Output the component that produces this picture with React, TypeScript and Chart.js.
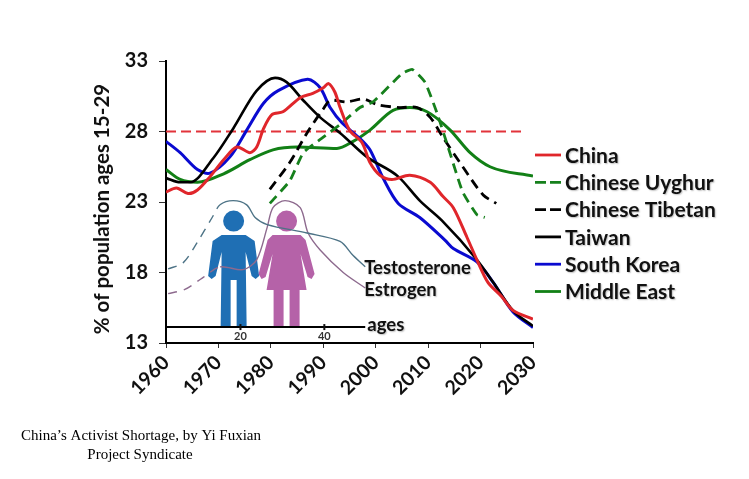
import React, { useEffect, useRef } from "react";
import { Chart, registerables } from "chart.js";

Chart.register(...registerables);

const chinaYears = [1960, 1962, 1964.2, 1966, 1968.4, 1971, 1973.5, 1976, 1977.3, 1978.6, 1980.2, 1982.3, 1985.6, 1988, 1990, 1991, 1992.2, 1993.2, 1995, 1997.4, 1998.9, 2000.8, 2003.1, 2006.5, 2010.4, 2012.8, 2014.8, 2017.4, 2019.3, 2021.4, 2024, 2026.2, 2030];
const chinaValues = [23.7, 24, 23.6, 23.85, 24.8, 26, 26.9, 26.5, 26.9, 28.2, 29.2, 29.4, 30.4, 30.7, 31.1, 31.4, 30.8, 29.7, 28.1, 27.2, 25.8, 24.9, 24.6, 24.9, 24.4, 23.4, 22.6, 20.5, 18.9, 17.3, 16.3, 15.3, 14.7];

const uyghurYears = [1979.8, 1983.6, 1986.2, 1990, 1993.2, 1997, 1999.5, 2005, 2007, 2009.4, 2011.7, 2013.8, 2016.6, 2019.3, 2020.8];
const uyghurValues = [22.9, 24.5, 26.5, 27.6, 28.5, 29.7, 30.1, 32.1, 32.4, 31.5, 29.3, 26.9, 23.7, 22.1, 21.9];

const tibetanYears = [1979.8, 1983.6, 1986.9, 1990, 1991.3, 1994.5, 1997.6, 2000.4, 2004.6, 2007.9, 2010.4, 2012.8, 2016.6, 2020.5, 2023];
const tibetanValues = [23.9, 25.8, 27.9, 29.6, 30.2, 30.1, 30.3, 29.9, 29.7, 29.7, 29, 27.6, 25.5, 23.5, 22.9];

const taiwanYears = [1960, 1962.7, 1964.6, 1969, 1972.8, 1977.3, 1980.8, 1983, 1986.2, 1989.4, 1993.2, 1998.3, 2004.3, 2008.4, 2012.6, 2019.3, 2022.4, 2026.2, 2030];
const taiwanValues = [24.7, 24.4, 24.4, 26.1, 28.2, 30.9, 31.8, 31.5, 30.2, 29, 27.9, 26.2, 24.8, 23.1, 21.7, 18.9, 17.3, 15.3, 14.2];

const koreaYears = [1960, 1962.7, 1966, 1968.4, 1972.2, 1975.4, 1978.6, 1981.4, 1987, 1989.4, 1991.3, 1993.6, 1997, 1998.9, 2001.4, 2004.3, 2008.4, 2013.2, 2014.8, 2019.3, 2022.4, 2026.2, 2030];
const koreaValues = [27.3, 26.5, 25.3, 25.05, 26.2, 28.1, 30, 30.9, 31.7, 31.1, 29.7, 28.6, 27.5, 26.7, 24.7, 22.9, 21.9, 20.3, 19.7, 18.75, 17.3, 15.2, 14.1];

const middleEastYears = [1960, 1962.7, 1966, 1971, 1976, 1980.4, 1985, 1992.6, 1995.7, 1998.9, 2003.3, 2006.5, 2009.8, 2014.2, 2018, 2021.8, 2030];
const middleEastValues = [25.3, 24.6, 24.4, 25, 26, 26.7, 26.9, 26.8, 27.3, 28.1, 29.5, 29.7, 29.4, 28.1, 26.5, 25.5, 24.85];

const testosteroneYears = [1960.4, 1963.3, 1965.9, 1968.8, 1970.3, 1972.8, 1975.4, 1977, 1979.3, 1986.9, 1993.2, 1995.7, 1998];
const testosteroneValues = [18.25, 18.7, 20.1, 21.9, 22.8, 23.1, 22.8, 21.9, 21.4, 20.8, 20.2, 19.2, 18.4];

const estrogenYears = [1960.4, 1963.6, 1966.9, 1970.3, 1974.7, 1977.3, 1979.3, 1980.4, 1982.7, 1985.6, 1987.1, 1989.4, 1993.8, 1998];
const estrogenValues = [16.5, 16.8, 17.6, 18.4, 18.2, 18.9, 21.2, 22.6, 23.1, 22.6, 20.8, 19.6, 18, 16.9];

const thresholdYears = [1960, 2028];
const thresholdValues = [28, 28];
const agesYears = [1960, 1998];
const agesValues = [14.13, 14.13];

const yTicks = [13, 18, 23, 28, 33];
const xTicks = [1960, 1970, 1980, 1990, 2000, 2010, 2020, 2030];
const legendNames = ["China", "Chinese Uyghur", "Chinese Tibetan", "Taiwan", "South Korea", "Middle East"];
const ageMarks = [{ label: "20", year: 1974.2 }, { label: "40", year: 1990.2 }];

const pts = (xs: number[], ys: number[]) => xs.map((x, i) => ({ x, y: ys[i] }));

const FONT = "Lato, 'Open Sans', sans-serif";
const MONO = { cubicInterpolationMode: "monotone" };

const line = (label: string, xs: number[], ys: number[], color: string, width: number, dash: number[] = [], extra: any = {}) => ({
  label,
  data: pts(xs, ys),
  borderColor: color,
  backgroundColor: color,
  borderWidth: width,
  borderDash: dash,
  pointRadius: 0,
  tension: 0.3,
  fill: false,
  ...extra,
});

const faintDash = (ctx: any) => (ctx.p0.parsed.x < 1969 ? [9, 7] : undefined);

const maleBody = [[-12, -92], [12, -92], [21, -86], [25.5, -51], [22, -48], [18, -51], [12, -75], [13, 0], [3, 0], [3, -47], [-3, -47], [-3, 0], [-13, 0], [-12, -75], [-18, -51], [-22, -48], [-25.5, -51], [-21, -86]];
const femaleBody = [[-14, -92], [14, -92], [19, -87], [28, -53], [25, -48], [21, -50], [14, -73], [20, -37], [13, -37], [13, 0], [3, 0], [3, -37], [-3, -37], [-3, 0], [-13, 0], [-13, -37], [-20, -37], [-14, -73], [-21, -50], [-25, -48], [-28, -53], [-19, -87]];

const drawFigure = (ctx: CanvasRenderingContext2D, cx: number, base: number, shape: number[][], color: string) => {
  ctx.fillStyle = color;
  ctx.beginPath();
  ctx.arc(cx, base - 106, 10.5, 0, Math.PI * 2);
  ctx.fill();
  ctx.beginPath();
  shape.forEach(([dx, dy], i) => (i ? ctx.lineTo(cx + dx, base + dy) : ctx.moveTo(cx + dx, base + dy)));
  ctx.closePath();
  ctx.fill();
};

const softShadow = (ctx: CanvasRenderingContext2D) => {
  ctx.shadowColor = "rgba(0,0,0,0.25)";
  ctx.shadowBlur = 1.5;
  ctx.shadowOffsetX = 1;
  ctx.shadowOffsetY = 1;
};

const figuresPlugin = {
  id: "figures",
  beforeDatasetsDraw(chart: any) {
    const { ctx, scales } = chart;
    const base = scales.y.getPixelForValue(agesValues[0]);
    ctx.save();
    drawFigure(ctx, scales.x.getPixelForValue(1972.9), base, maleBody, "#1f6fb4");
    drawFigure(ctx, scales.x.getPixelForValue(1983), base, femaleBody, "#b562a8");
    ctx.restore();
  },
  afterDatasetsDraw(chart: any) {
    const { ctx, scales, data, chartArea } = chart;
    const base = scales.y.getPixelForValue(agesValues[0]);
    ctx.save();
    ctx.fillStyle = "#111";
    ageMarks.forEach((m) => {
      const x = scales.x.getPixelForValue(m.year);
      ctx.fillRect(x - 1, base - 3, 2, 6);
    });
    ctx.font = `bold 11px ${FONT}`;
    ctx.textAlign = "center";
    ctx.textBaseline = "middle";
    ctx.fillStyle = "#333";
    ageMarks.forEach((m) => ctx.fillText(m.label, scales.x.getPixelForValue(m.year), base + 9));

    // y axis title
    ctx.save();
    ctx.translate(102, 209);
    ctx.rotate(-Math.PI / 2);
    ctx.font = `bold 20.5px ${FONT}`;
    ctx.fillStyle = "#111";
    ctx.fillText("% of population ages 15-29", 0, 0);
    ctx.restore();

    // captions
    ctx.font = "15px 'Liberation Serif', serif";
    ctx.fillStyle = "#000";
    ctx.fillText("China\u2019s Activist Shortage, by Yi Fuxian", 141, 436);
    ctx.fillText("Project Syndicate", 140, 455);

    // annotation text
    ctx.save();
    softShadow(ctx);
    ctx.textAlign = "left";
    ctx.font = `bold 18.5px ${FONT}`;
    ctx.fillStyle = "#111";
    ctx.fillText("Testosterone", scales.x.getPixelForValue(1997.8), scales.y.getPixelForValue(18.3));
    ctx.fillText("Estrogen", scales.x.getPixelForValue(1997.8), scales.y.getPixelForValue(16.75));
    ctx.fillText("ages", scales.x.getPixelForValue(1998.4), scales.y.getPixelForValue(14.25));
    ctx.restore();

    // legend
    const lineLeft = chartArea.right + 2;
    const step = 27.3;
    legendNames.forEach((name, i) => {
      const ds = data.datasets.find((d: any) => d.label === name);
      const y = 155 + i * step;
      ctx.save();
      ctx.strokeStyle = ds.borderColor;
      ctx.lineWidth = 2.8;
      ctx.setLineDash(ds.borderDash.length ? [11, 4] : []);
      ctx.beginPath();
      ctx.moveTo(lineLeft, y);
      ctx.lineTo(lineLeft + 26, y);
      ctx.stroke();
      ctx.setLineDash([]);
      softShadow(ctx);
      ctx.font = `bold 21px ${FONT}`;
      ctx.fillStyle = "#111";
      ctx.textAlign = "left";
      ctx.fillText(name, lineLeft + 30, y + 1);
      ctx.restore();
    });
    ctx.restore();
  },
};

export default function App() {
  const ref = useRef<HTMLCanvasElement>(null);
  useEffect(() => {
    const chart = new Chart(ref.current as HTMLCanvasElement, {
      type: "line",
      data: {
        datasets: [
          line("China", chinaYears, chinaValues, "#e0262b", 3),
          line("Chinese Uyghur", uyghurYears, uyghurValues, "#16801c", 2.8, [10, 6], { tension: 0.15 }),
          line("Chinese Tibetan", tibetanYears, tibetanValues, "#000000", 2.8, [10, 6]),
          line("Taiwan", taiwanYears, taiwanValues, "#000000", 2.6, [], MONO),
          line("South Korea", koreaYears, koreaValues, "#0a0ad0", 3),
          line("Middle East", middleEastYears, middleEastValues, "#128016", 3, [], MONO),
          line("threshold", thresholdYears, thresholdValues, "#e2333a", 2, [10, 5], { tension: 0 }),
          line("Testosterone", testosteroneYears, testosteroneValues, "#4d7386", 1.4, [], { segment: { borderDash: faintDash } }),
          line("Estrogen", estrogenYears, estrogenValues, "#8d6a8e", 1.4, [], { segment: { borderDash: faintDash } }),
          line("ages", agesYears, agesValues, "#000000", 2, [], { tension: 0 }),
        ],
      },
      options: {
        responsive: false,
        animation: false,
        layout: { padding: { left: 92, top: 61, right: 216, bottom: 0 } },
        plugins: {
          tooltip: { enabled: false },
          legend: { display: false },
        },
        scales: {
          x: {
            type: "linear",
            min: 1960,
            max: 2030,
            afterBuildTicks: (s: any) => { s.ticks = xTicks.map((value) => ({ value })); },
            afterFit: (s: any) => { s.height = 136; },
            grid: { drawOnChartArea: false, color: "#333", tickLength: 5 },
            border: { color: "#000", width: 2 },
            ticks: {
              autoSkip: false,
              maxRotation: 45,
              minRotation: 45,
              color: "#111",
              font: { family: FONT, size: 19.5, weight: "bold" },
              callback: (v: any) => String(v),
            },
          },
          y: {
            min: 13,
            max: 33,
            afterBuildTicks: (s: any) => { s.ticks = yTicks.map((value) => ({ value })); },
            afterFit: (s: any) => { s.width = 74; },
            grid: { drawOnChartArea: false, color: "#333", tickLength: 7 },
            border: { color: "#000", width: 2 },
            ticks: { color: "#111", padding: 11, font: { family: FONT, size: 20, weight: "bold" } },
          },
        },
      },
      plugins: [figuresPlugin],
    } as any);
    return () => chart.destroy();
  }, []);
  return (
    <div style={{ position: "absolute", left: 0, top: 0 }}>
      <canvas ref={ref} width={749} height={479} style={{ display: "block" }} />
    </div>
  );
}
